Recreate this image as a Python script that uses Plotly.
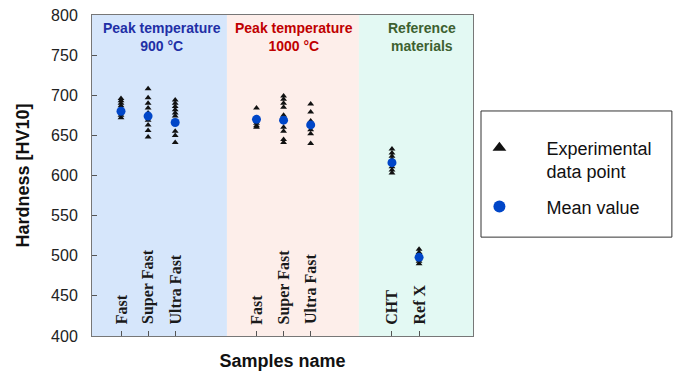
import plotly.graph_objects as go

# ---------------- data ----------------
groups = ["Peak temperature<br>900 °C", "Peak temperature<br>1000 °C", "Reference<br>materials"]
group_colors = ["#1f2fa6", "#c00000", "#3d6130"]
categories = [["Fast", "Super Fast", "Ultra Fast"],
              ["Fast", "Super Fast", "Ultra Fast"],
              ["CHT", "Ref X"]]

points_900 = [
    [696, 693, 690, 687, 684, 679, 675, 672],
    [708, 697, 690, 684, 678, 669, 663, 656, 648],
    [694, 690, 686, 682, 678, 674, 655, 650, 641],
]
points_1000 = [
    [684, 672, 668, 665, 662, 660],
    [699, 695, 690, 685, 675, 668, 660, 655, 645, 641],
    [689, 679, 668, 662, 657, 652, 640],
]
points_ref = [
    [633, 628, 624, 620, 615, 611, 607, 603],
    [508, 504, 500, 496, 493, 490],
]
means_900 = [680, 674, 666]
means_1000 = [670, 669, 663]
means_ref = [616, 498]

y_ticks = [400, 450, 500, 550, 600, 650, 700, 750, 800]

# ---------------- build ----------------
all_points = [points_900, points_1000, points_ref]
all_means = [means_900, means_1000, means_ref]

px, py, mx, my, tick_x, tick_text = [], [], [], [], [], []
for g, (pts, means, cats) in enumerate(zip(all_points, all_means, categories)):
    for i, (vals, m, c) in enumerate(zip(pts, means, cats)):
        xpos = g * 5 + i + 1
        px += [xpos] * len(vals)
        py += vals
        mx.append(xpos)
        my.append(m)
        tick_x.append(xpos)
        tick_text.append(c)

fig = go.Figure()
fig.add_trace(go.Scatter(
    x=px, y=py, mode="markers", name="Experimental<br>data point",
    marker=dict(symbol="triangle-up", size=6, color="#111111"),
    legendgroup="a", hoverinfo="skip"))
fig.add_trace(go.Scatter(
    x=mx, y=my, mode="markers", name="Mean value",
    marker=dict(symbol="circle", size=9, color="#0046c8"),
    legendgroup="b", hoverinfo="skip"))

band_edges = [-0.07, 4.91, 9.78, 13.99]
band_fill = ["#d6e6fb", "#fdeeea", "#e3f9f3"]
title_x = [2.51, 7.40, 12.1]
for k in range(3):
    fig.add_shape(type="rect", xref="x", yref="paper",
                  x0=band_edges[k], x1=band_edges[k + 1], y0=0, y1=1,
                  fillcolor=band_fill[k], line_width=0, layer="below")
    fig.add_annotation(x=title_x[k], xref="x", y=0.931, yref="paper",
                       text="<b>" + groups[k] + "</b>", showarrow=False,
                       font=dict(family="Liberation Sans, Arial", size=14,
                                 color=group_colors[k]),
                       xanchor="center", yanchor="middle")

for xv, t in zip(tick_x, tick_text):
    fig.add_annotation(x=xv, xref="x", y=412, yref="y", text="<b>" + t + "</b>",
                       textangle=-90, showarrow=False,
                       font=dict(family="Liberation Serif, Times New Roman", size=16,
                                 color="#1a1a1a"),
                       xanchor="center", yanchor="bottom")

# legend frame
fig.add_shape(type="rect", xref="paper", yref="paper",
              x0=1.021, x1=1.522, y0=0.308, y1=0.701,
              line=dict(color="#333333", width=1), fillcolor="rgba(0,0,0,0)")

fig.update_layout(
    width=678, height=371,
    margin=dict(l=92, r=205, t=15, b=35),
    paper_bgcolor="white", plot_bgcolor="white",
    showlegend=True,
    legend=dict(x=0.946, y=0.643, xanchor="left", yanchor="top",
                font=dict(family="Liberation Sans, Arial", size=18, color="#111111"),
                itemsizing="constant", itemwidth=84, tracegroupgap=9,
                valign="top", bgcolor="rgba(0,0,0,0)"),
    font=dict(family="Liberation Sans, Arial", color="#111111"),
)
fig.update_xaxes(range=[-0.07, 13.99], tickvals=tick_x, showticklabels=False,
                 ticks="inside", ticklen=5, tickcolor="#555555",
                 showline=True, linecolor="#777777", linewidth=1, mirror=True,
                 showgrid=False, zeroline=False, automargin=False,
                 title=dict(text="<b>Samples name</b>", standoff=18,
                            font=dict(size=18, family="Liberation Sans, Arial", color="#111111")))
fig.update_yaxes(range=[400, 800], tickvals=y_ticks, ticks="inside", ticklen=5,
                 tickcolor="#555555", showline=True, linecolor="#777777", linewidth=1,
                 mirror=True, showgrid=False, zeroline=False, automargin=False,
                 tickfont=dict(size=16, family="Liberation Sans, Arial", color="#222222"),
                 tickprefix="<b>", ticksuffix="</b>", ticklabelstandoff=10,
                 title=dict(text="<b>Hardness [HV10]</b>", standoff=16,
                            font=dict(size=18, family="Liberation Sans, Arial", color="#111111")))

fig.write_html("out.html")
